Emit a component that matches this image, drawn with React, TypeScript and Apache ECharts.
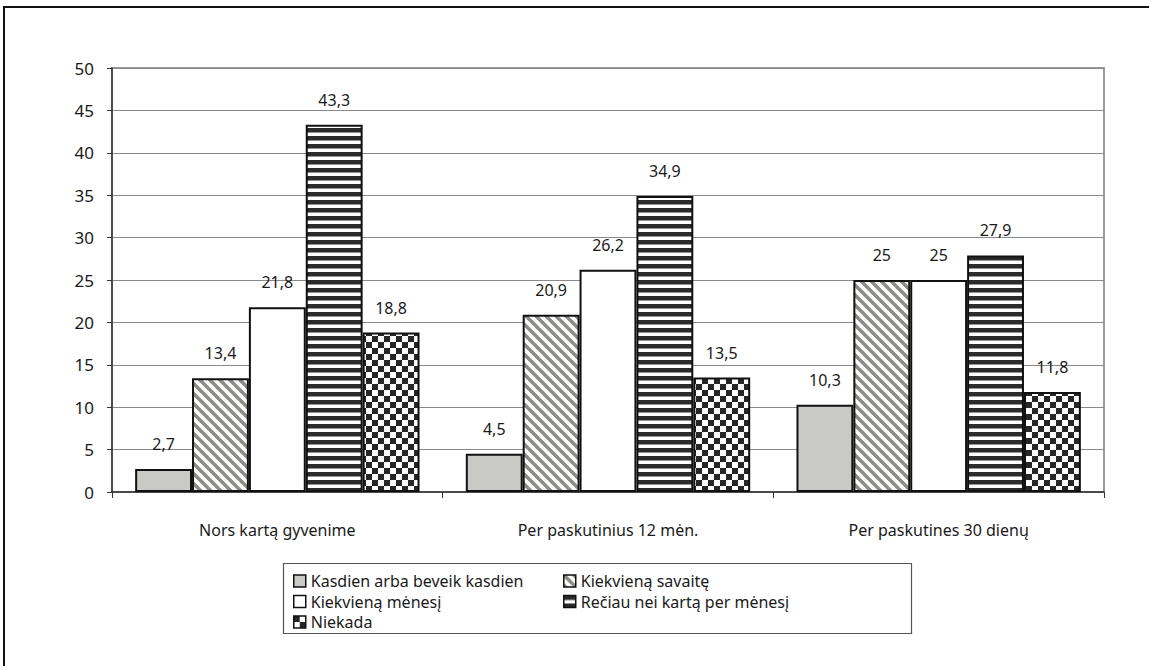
import React, { useEffect, useRef } from "react";
import * as echarts from "echarts";

const categories = ["Nors kartą gyvenime", "Per paskutinius 12 mėn.", "Per paskutines 30 dienų"];
const seriesNames = [
  "Kasdien arba beveik kasdien",
  "Kiekvieną savaitę",
  "Kiekvieną mėnesį",
  "Rečiau nei kartą per mėnesį",
  "Niekada",
];
const kasdien = [2.7, 4.5, 10.3];
const savaite = [13.4, 20.9, 25];
const menesi = [21.8, 26.2, 25];
const reciau = [43.3, 34.9, 27.9];
const niekada = [18.8, 13.5, 11.8];
const yTicks = [0, 5, 10, 15, 20, 25, 30, 35, 40, 45, 50];

function makeCanvas(w: number, h: number, draw: (ctx: CanvasRenderingContext2D) => void) {
  const c = document.createElement("canvas");
  c.width = w;
  c.height = h;
  const ctx = c.getContext("2d")!;
  draw(ctx);
  return c;
}

function diagPattern() {
  const n = 10;
  const c = makeCanvas(n, n, (ctx) => {
    ctx.fillStyle = "#ffffff";
    ctx.fillRect(0, 0, n, n);
    ctx.strokeStyle = "#8c8c88";
    ctx.lineWidth = 3.6;
    for (let k = -1; k <= 1; k++) {
      ctx.beginPath();
      ctx.moveTo(k * n - 1, -1);
      ctx.lineTo(k * n + n + 1, n + 1);
      ctx.stroke();
    }
  });
  return { image: c, repeat: "repeat", imageWidth: n, imageHeight: n } as any;
}

function hStripePattern() {
  const c = makeCanvas(8, 8, (ctx) => {
    ctx.fillStyle = "#ffffff";
    ctx.fillRect(0, 0, 8, 8);
    ctx.fillStyle = "#2b2b2b";
    ctx.fillRect(0, 0, 8, 4.5);
  });
  return { image: c, repeat: "repeat", imageWidth: 8, imageHeight: 8 } as any;
}

function checkerPattern() {
  const c = makeCanvas(12, 12, (ctx) => {
    ctx.fillStyle = "#ffffff";
    ctx.fillRect(0, 0, 12, 12);
    ctx.fillStyle = "#262626";
    ctx.fillRect(0, 0, 6, 6);
    ctx.fillRect(6, 6, 6, 6);
  });
  return { image: c, repeat: "repeat", imageWidth: 12, imageHeight: 12 } as any;
}

const FONT = "Noto Sans";

export default function App() {
  const ref = useRef<HTMLDivElement>(null);
  useEffect(() => {
    if (!ref.current) return;
    const chart = echarts.init(ref.current, null, { renderer: "svg" });
    const fills = ["#c9c9c5", diagPattern(), "#ffffff", hStripePattern(), checkerPattern()];
    const datas = [kasdien, savaite, menesi, reciau, niekada];
    const series = seriesNames.map((name, i) => ({
      name,
      type: "bar",
      data: datas[i],
      barGap: "0%",
      barCategoryGap: "14%",
      itemStyle: { color: fills[i], borderColor: "#111", borderWidth: 2 },
      label: {
        show: true,
        position: "top",
        distance: 17,
        color: "#1a1a1a",
        fontSize: 16,
        fontFamily: FONT,
        formatter: (p: any) => String(p.value).replace(".", ","),
      },
    }));
    const legendCommon = {
      orient: "vertical",
      top: 568,
      icon: "rect",
      itemWidth: 12,
      itemHeight: 12,
      itemGap: 4.5,
      textStyle: { fontSize: 16, fontFamily: FONT, color: "#1a1a1a", lineHeight: 16 },
      itemStyle: { borderWidth: 1.5, borderColor: "#111" },
    };
    chart.setOption({
      animation: false,
      backgroundColor: "#ffffff",
      grid: {
        left: 112,
        right: 45,
        top: 68,
        bottom: 174,
        show: true,
        borderColor: "#9a9a9a",
        borderWidth: 2,
      },
      xAxis: {
        type: "category",
        data: categories,
        axisLine: { lineStyle: { color: "#333", width: 1.5 } },
        axisTick: { show: true, length: 6, lineStyle: { color: "#333" } },
        axisLabel: { color: "#1a1a1a", fontSize: 16, fontFamily: FONT, margin: 30 },
      },
      yAxis: {
        type: "value",
        min: yTicks[0],
        max: yTicks[yTicks.length - 1],
        interval: yTicks[1] - yTicks[0],
        axisLine: { show: true, lineStyle: { color: "#333", width: 1.5 } },
        axisTick: { show: true, length: 5, lineStyle: { color: "#333" } },
        axisLabel: { color: "#1a1a1a", fontSize: 17, fontFamily: FONT, margin: 18 },
        splitLine: { lineStyle: { color: "#8a8a8a", width: 1 } },
      },
      legend: [
        { ...legendCommon, data: [seriesNames[0], seriesNames[2], seriesNames[4]], left: 288 },
        { ...legendCommon, data: [seriesNames[1], seriesNames[3]], left: 558 },
      ],
      graphic: [
        {
          type: "rect",
          shape: { x: 4, y: 7, width: 1300, height: 800 },
          style: { fill: "none", stroke: "#111", lineWidth: 2 },
          silent: true,
        },
        {
          type: "rect",
          shape: { x: 283.5, y: 563.5, width: 628, height: 70 },
          style: { fill: "none", stroke: "#555", lineWidth: 1.2 },
          silent: true,
        },
      ],
      series,
    });
    return () => chart.dispose();
  }, []);
  return (
    <div
      ref={ref}
      style={{ position: "fixed", left: 0, top: 0, width: 1149, height: 666 }}
    />
  );
}
